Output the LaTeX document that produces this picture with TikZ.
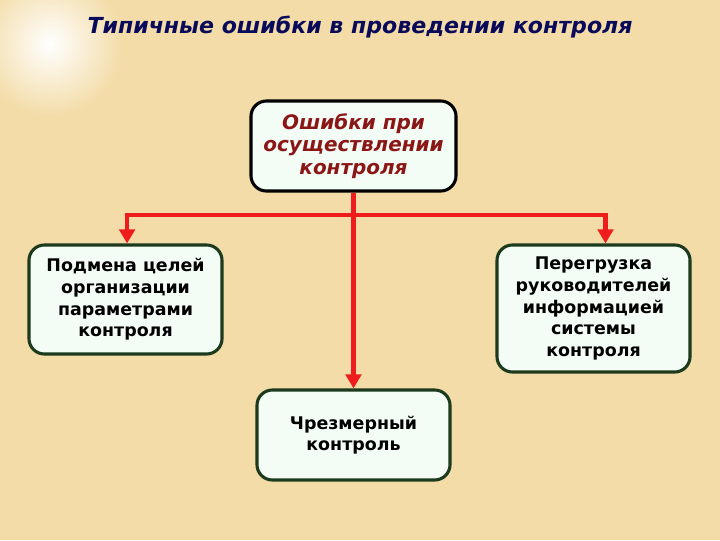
\documentclass[tikz,border=0pt]{standalone}
\usepackage{fontspec}
\setmainfont{DejaVu Sans}
\usetikzlibrary{arrows.meta}
\definecolor{bgtan}{HTML}{F3DCA8}
\definecolor{boxfill}{HTML}{F4FCF6}
\definecolor{boxgreen}{HTML}{1C3A1C}
\definecolor{linkred}{HTML}{EE1C1C}
\definecolor{titleblue}{HTML}{0A0A5A}
\definecolor{errred}{HTML}{8A1616}
\begin{document}
\begin{tikzpicture}[x=0.025cm, y=-0.025cm, >={Triangle[length=10pt,width=11pt]},
	box/.style={draw=boxgreen, line width=2.2pt, rounded corners=11pt, fill=boxfill,
		align=center, inner sep=0pt, font=\bfseries\fontsize{12.4}{15.4}\selectfont},
	link/.style={draw=linkred, line width=3pt}]
	% background
	\useasboundingbox (0,0) rectangle (720,540);
	\fill[bgtan] (0,0) rectangle (720,540);
	\shade[inner color=white, outer color=bgtan] (50,44) circle (1.8cm);
	% title
	\node[text=titleblue, font=\bfseries\itshape\fontsize{15.7}{18}\selectfont] (title) at (360,27) {Типичные ошибки в проведении контроля};
	% boxes
	\node[box, draw=black, text=errred, minimum width=5.125cm, minimum height=2.25cm,
		font=\bfseries\itshape\fontsize{14.2}{16.2}\selectfont] (err) at (353.5,146) {Ошибки при\\осуществлении\\контроля};
	\node[box, minimum width=4.825cm, minimum height=2.725cm] (subst) at (125.5,299.5) {Подмена целей\\организации\\параметрами\\контроля};
	\node[box, minimum width=4.825cm, minimum height=3.175cm] (load) at (593.5,308.5) {Перегрузка\\руководителей\\информацией\\системы\\контроля};
	\node[box, minimum width=4.825cm, minimum height=2.25cm] (over) at (353.5,435) {Чрезмерный\\контроль};
	% connectors
	\coordinate (fork) at (353.5,215);
	\draw[link, ->] (fork) -| ([xshift=0.04cm]subst.north);
	\draw[link, ->] (fork) -| ([xshift=0.3cm]load.north);
	\draw[link, ->] (err.south) -- (over.north);
\end{tikzpicture}
\end{document}
